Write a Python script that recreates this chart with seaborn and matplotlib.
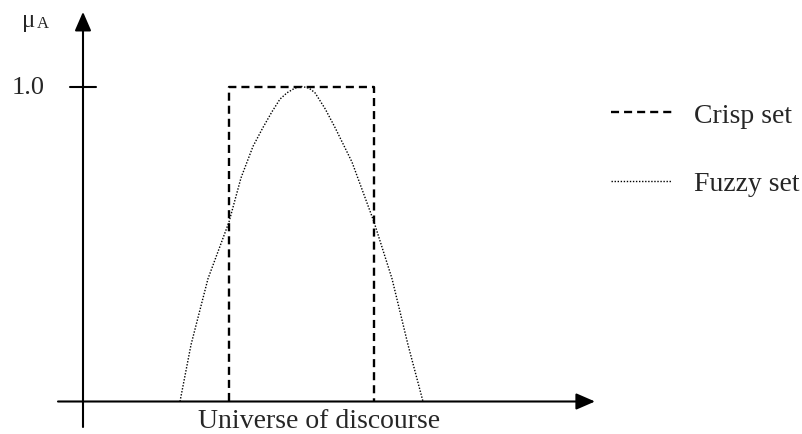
import numpy as np
import pandas as pd
import seaborn as sns
import matplotlib.pyplot as plt

# universe position (left of y-axis = 0) and membership degree
crisp_x = [146, 146, 291, 291]
crisp_mu = [0, 1, 1, 0]

fuzzy_x = [97, 108, 125, 146, 158, 170, 180, 189, 197, 204, 212, 219,
           226, 232, 242, 252, 269, 291, 309, 325, 340]
fuzzy_mu = [0, 0.18, 0.39, 0.57, 0.71, 0.81, 0.87, 0.92, 0.96, 0.98, 0.995, 1.0,
            0.995, 0.98, 0.93, 0.87, 0.76, 0.57, 0.39, 0.18, 0]

labels = ['Crisp set', 'Fuzzy set']

sns.set_style('white')
plt.rcParams['font.family'] = ['Liberation Serif', 'DejaVu Serif']
plt.rcParams['lines.scale_dashes'] = False

fig = plt.figure(figsize=(8.03, 4.35), dpi=100)
ax = fig.add_axes([0, 0, 1, 1])
ax.set_xlim(-83, 720)
ax.set_ylim(-0.1032, 1.2778)
ax.axis('off')

sns.lineplot(x=crisp_x, y=crisp_mu, sort=False, estimator=None, ax=ax,
             color='black', linewidth=1.7, dashes=False,
             linestyle=(0, (5.8, 3.6)), label=labels[0])
sns.lineplot(x=fuzzy_x, y=fuzzy_mu, sort=False, estimator=None, ax=ax,
             color='black', linewidth=1.0, dashes=False,
             linestyle=(0, (1.0, 1.2)), label=labels[1])

# axes with arrow heads
arrow = dict(arrowstyle='-|>,head_length=1.15,head_width=0.5', lw=1.5,
             color='black', mutation_scale=10, shrinkA=0, shrinkB=0)
ax.annotate('', xy=(512, 0), xytext=(-25, 0), arrowprops=arrow)
ax.annotate('', xy=(0, 1.237), xytext=(0, -0.081), arrowprops=arrow)

# tick at 1.0
ax.plot([-13, 13], [1, 1], color='black', lw=1.5)
ax.text(-38, 1.0, '1.0', ha='right', va='center', fontsize=19)

ax.text(-61, 1.211, 'μ', ha='left', va='center', fontsize=18)
ax.text(-46, 1.203, 'A', ha='left', va='center', fontsize=12)

ax.text(236, -0.1, 'Universe of discourse', ha='center', va='bottom',
        fontsize=20)

ax.legend(loc='upper left', bbox_to_anchor=(0.761, 0.762), frameon=False,
          fontsize=20, handlelength=2.2, handletextpad=0.8,
          labelspacing=1.55, borderpad=0, borderaxespad=0)

plt.savefig('out.png', dpi=100)
